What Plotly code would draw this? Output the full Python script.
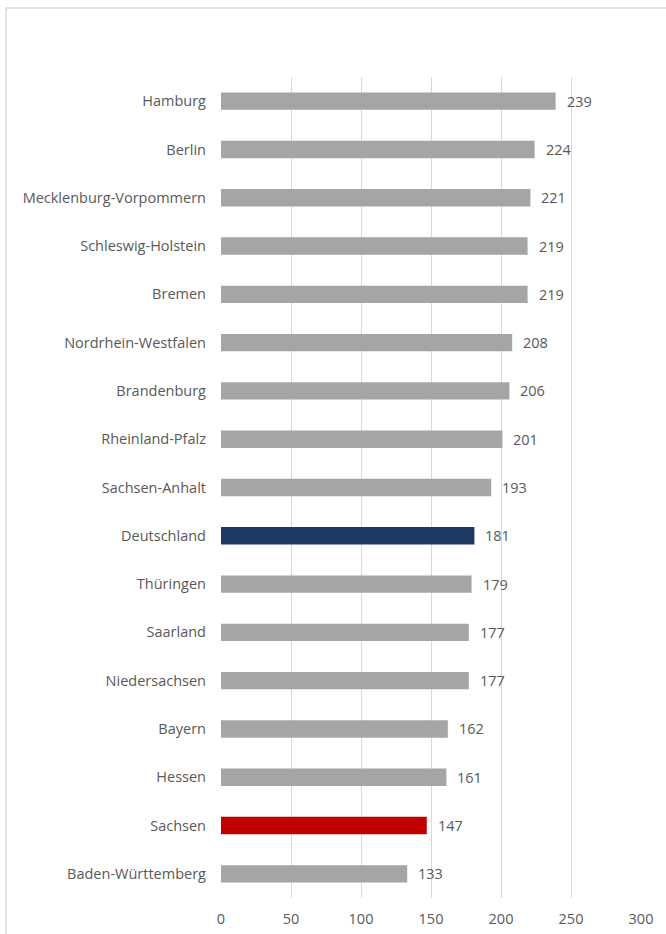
import plotly.graph_objects as go

categories = ["Hamburg", "Berlin", "Mecklenburg-Vorpommern", "Schleswig-Holstein", "Bremen",
              "Nordrhein-Westfalen", "Brandenburg", "Rheinland-Pfalz", "Sachsen-Anhalt",
              "Deutschland", "Thüringen", "Saarland", "Niedersachsen", "Bayern", "Hessen",
              "Sachsen", "Baden-Württemberg"]
values = [239, 224, 221, 219, 219, 208, 206, 201, 193, 181, 179, 177, 177, 162, 161, 147, 133]
x_ticks = [0, 50, 100, 150, 200, 250, 300]

GRAY = "#a5a5a5"
NAVY = "#1f3864"
RED = "#c00000"
colors = [NAVY if c == "Deutschland" else RED if c == "Sachsen" else GRAY for c in categories]

FONT = "Open Sans, sans-serif"
TXT = "#595959"

fig = go.Figure(go.Bar(
    y=categories, x=values, orientation="h",
    marker=dict(color=colors, line=dict(width=0)),
    width=0.36,
))

for c, v in zip(categories, values):
    fig.add_annotation(x=v, y=c, text=str(v), showarrow=False, xanchor="left", xshift=9,
                       font=dict(family=FONT, size=14.5, color=TXT))

W, H = 666, 934
l, r, t, b = 221, 25, 77, 36
pw, ph = W - l - r, H - t - b

fig.update_layout(
    width=W, height=H,
    margin=dict(l=l, r=r, t=t, b=b, autoexpand=False),
    paper_bgcolor="white", plot_bgcolor="white",
    showlegend=False,
    xaxis=dict(range=[0, 300], tickvals=x_ticks, showgrid=True, gridcolor="#d9d9d9", gridwidth=1,
               zeroline=False, showline=False, ticks="", ticklabelstandoff=10, automargin=False,
               tickfont=dict(family=FONT, size=14.5, color=TXT), fixedrange=True),
    yaxis=dict(categoryorder="array", categoryarray=categories[::-1], autorange=False,
               range=[-0.5, len(categories) - 0.5], showgrid=False, zeroline=False, showline=False,
               ticks="", ticklabelstandoff=14, automargin=False,
               tickfont=dict(family=FONT, size=14.5, color=TXT), fixedrange=True),
    shapes=[dict(type="rect", xref="paper", yref="paper",
                 x0=(6 - l) / pw, x1=(W + 10 - l) / pw,
                 y0=(H - b - (H + 10)) / ph, y1=(H - b - 8) / ph,
                 line=dict(color="#d9d9d9", width=1.5), fillcolor="rgba(0,0,0,0)", layer="below")],
)

fig.write_html("out.html")
